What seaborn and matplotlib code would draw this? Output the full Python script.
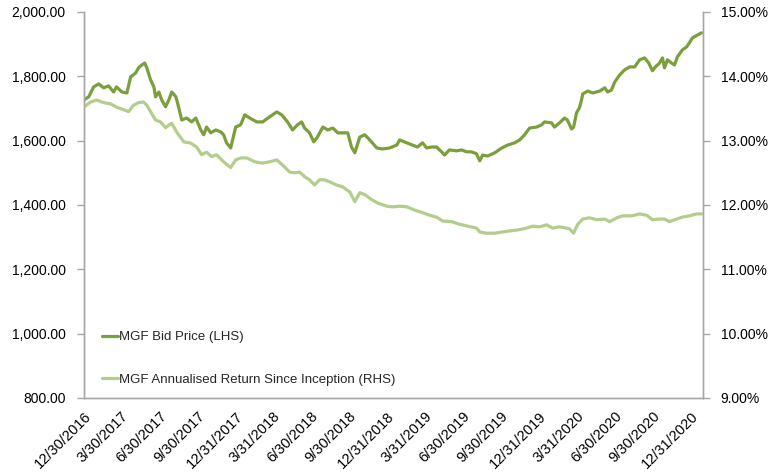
import pandas as pd
import numpy as np
import matplotlib
matplotlib.use("Agg")
import matplotlib.pyplot as plt
import matplotlib.ticker as mticker
import seaborn as sns

start_date = "2016-12-30"
end_date = "2021-01-29"

# MGF bid price (LHS): days since 12/30/2016, price
price_days = [0, 12, 24, 36, 48, 60, 72, 79, 92, 104, 113, 125, 132, 140, 147, 152, 161, 169, 173, 181,
              188, 197, 205, 212, 222, 229, 236, 248, 260, 270, 282, 289, 296, 306, 318, 330, 337, 344, 354, 366,
              378, 388, 400, 417, 431, 448, 465, 477, 491, 503, 515, 525, 532, 544, 554, 563, 576, 588, 600, 612,
              624, 636, 645, 653, 665, 677, 689, 706, 720, 737, 754, 761, 778, 792, 804, 816, 826, 838, 850, 862,
              869, 881, 898, 910, 922, 934, 946, 954, 961, 973, 990, 1007, 1021, 1038, 1050, 1062, 1074, 1091, 1103, 1110,
              1127, 1134, 1146, 1158, 1165, 1175, 1180, 1187, 1194, 1199, 1202, 1214, 1226, 1243, 1255, 1262, 1271, 1279, 1291, 1303,
              1315, 1327, 1339, 1351, 1361, 1370, 1377, 1387, 1394, 1399, 1406, 1416, 1423, 1430, 1442, 1452, 1459, 1466, 1478, 1488]
bid_price = [1726, 1736, 1767, 1776, 1764, 1770, 1751, 1767, 1751, 1748, 1798, 1810, 1826, 1835, 1841, 1826, 1789, 1767, 1736, 1751,
             1726, 1705, 1726, 1751, 1736, 1702, 1664, 1670, 1658, 1670, 1633, 1618, 1642, 1624, 1633, 1627, 1618, 1593, 1577, 1642,
             1649, 1680, 1670, 1658, 1658, 1674, 1689, 1680, 1658, 1633, 1649, 1658, 1639, 1624, 1596, 1611, 1642, 1633, 1639, 1624,
             1624, 1624, 1580, 1562, 1611, 1618, 1602, 1577, 1574, 1577, 1586, 1602, 1593, 1586, 1580, 1593, 1577, 1580, 1580, 1565,
             1555, 1571, 1568, 1571, 1565, 1565, 1559, 1537, 1555, 1552, 1562, 1577, 1586, 1593, 1602, 1618, 1639, 1642, 1649, 1658,
             1655, 1642, 1655, 1670, 1664, 1636, 1642, 1686, 1702, 1726, 1745, 1754, 1748, 1754, 1764, 1751, 1757, 1782, 1804, 1820,
             1829, 1829, 1851, 1857, 1841, 1817, 1829, 1841, 1857, 1826, 1851, 1841, 1835, 1860, 1882, 1891, 1904, 1919, 1928, 1935]

# MGF annualised return since inception (RHS), %
return_days = [0, 17, 31, 48, 65, 79, 96, 108, 120, 132, 144, 152, 161, 173, 185, 197, 205, 212, 224, 241,
               258, 272, 284, 296, 308, 320, 337, 354, 366, 378, 393, 412, 431, 448, 465, 479, 496, 508, 520, 532,
               544, 556, 568, 580, 592, 609, 624, 641, 653, 665, 677, 694, 708, 730, 744, 761, 778, 797, 816, 833,
               850, 864, 886, 905, 925, 946, 954, 970, 990, 1009, 1031, 1045, 1067, 1081, 1098, 1115, 1129, 1146, 1170, 1180,
               1190, 1202, 1218, 1235, 1255, 1267, 1284, 1298, 1320, 1339, 1356, 1370, 1387, 1399, 1411, 1428, 1442, 1459, 1476, 1488]
ann_return = [13.52, 13.60, 13.63, 13.59, 13.57, 13.52, 13.48, 13.45, 13.55, 13.59, 13.60, 13.55, 13.45, 13.32, 13.29, 13.20, 13.24, 13.27, 13.13, 12.98,
              12.96, 12.90, 12.78, 12.82, 12.75, 12.78, 12.67, 12.58, 12.70, 12.73, 12.73, 12.67, 12.65, 12.67, 12.70, 12.62, 12.51, 12.50, 12.51, 12.44,
              12.39, 12.31, 12.39, 12.39, 12.36, 12.31, 12.28, 12.20, 12.05, 12.19, 12.16, 12.08, 12.03, 11.98, 11.97, 11.98, 11.97, 11.92, 11.88, 11.84,
              11.81, 11.75, 11.74, 11.70, 11.67, 11.64, 11.58, 11.56, 11.56, 11.58, 11.60, 11.61, 11.64, 11.67, 11.66, 11.69, 11.64, 11.66, 11.63, 11.56,
              11.70, 11.78, 11.80, 11.77, 11.78, 11.74, 11.80, 11.83, 11.83, 11.86, 11.84, 11.77, 11.78, 11.78, 11.74, 11.78, 11.81, 11.83, 11.86, 11.86]

tick_labels = ["12/30/2016", "3/30/2017", "6/30/2017", "9/30/2017", "12/31/2017", "3/31/2018",
               "6/30/2018", "9/30/2018", "12/31/2018", "3/31/2019", "6/30/2019", "9/30/2019",
               "12/31/2019", "3/31/2020", "6/30/2020", "9/30/2020", "12/31/2020"]

base = pd.Timestamp(start_date)
df_price = pd.DataFrame({"date": base + pd.to_timedelta(price_days, unit="D"), "price": bid_price})
df_ret = pd.DataFrame({"date": base + pd.to_timedelta(return_days, unit="D"), "ret": ann_return})

sns.set_style("white")
plt.rcParams["font.family"] = ["Liberation Sans", "DejaVu Sans"]

dark = "#7A9F3C"
light = "#B4CC8C"
grey = "#A6A6A6"

fig = plt.figure(figsize=(7.68, 4.76), dpi=100)
ax = fig.add_axes([0.109, 0.164, 0.806, 0.811])
ax2 = ax.twinx()

sns.lineplot(data=df_price, x="date", y="price", ax=ax, color=dark, linewidth=2.3,
             label="MGF Bid Price (LHS)", legend=False)
sns.lineplot(data=df_ret, x="date", y="ret", ax=ax2, color=light, linewidth=2.3,
             label="MGF Annualised Return Since Inception (RHS)", legend=False)

ax.set_xlim(base, pd.Timestamp(end_date))
ax.set_ylim(800, 2000)
ax2.set_ylim(9, 15)
ax.yaxis.set_major_locator(mticker.MultipleLocator(200))
ax2.yaxis.set_major_locator(mticker.MultipleLocator(1))
ax.yaxis.set_major_formatter(mticker.FuncFormatter(lambda v, p: f"{v:,.2f}"))
ax2.yaxis.set_major_formatter(mticker.FuncFormatter(lambda v, p: f"{v:.2f}%"))

ticks = pd.to_datetime(tick_labels, format="%m/%d/%Y")
ax.set_xticks(ticks)
ax.set_xticklabels(tick_labels, rotation=45, ha="right", rotation_mode="anchor", fontsize=10.5)
ax.set_xlabel("")
ax.set_ylabel("")
ax2.set_ylabel("")

for a in (ax, ax2):
    a.spines["top"].set_visible(False)
    for s in ("left", "right", "bottom"):
        a.spines[s].set_color(grey)
        a.spines[s].set_linewidth(1)
    a.tick_params(axis="both", which="major", direction="out", length=5, width=1,
                  color=grey, labelsize=10, labelcolor="#000000")
ax.tick_params(axis="x", pad=3, labelsize=10.5)
ax.tick_params(axis="y", left=True, pad=8)
ax2.tick_params(axis="y", right=True, pad=8)

handles = ax.get_lines()[:1] + ax2.get_lines()[:1]
labels = [h.get_label() for h in handles]
ax.legend(handles, labels, loc="lower left", bbox_to_anchor=(0.01, 0.0), frameon=False,
          handlelength=1.2, handletextpad=0.1, labelspacing=2.3,
          prop={"size": 9.5})

fig.savefig("out.png", dpi=100)
